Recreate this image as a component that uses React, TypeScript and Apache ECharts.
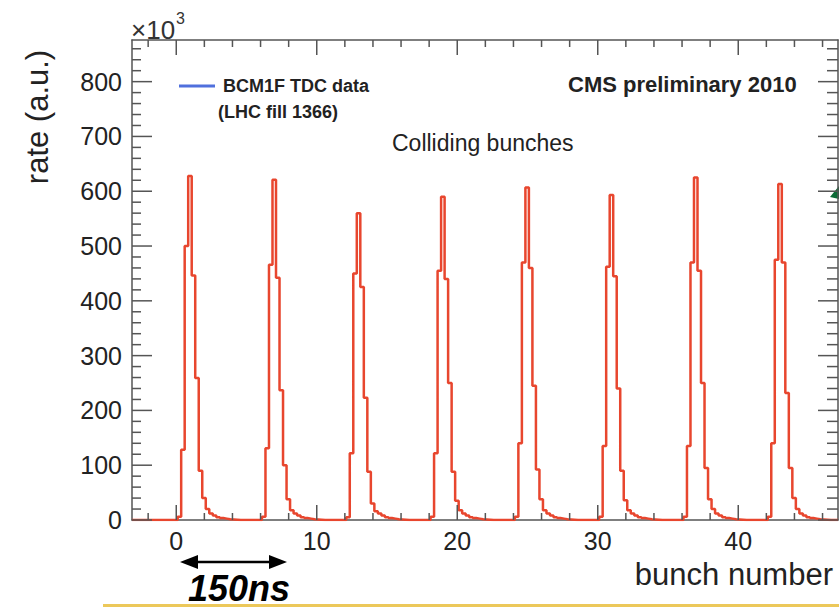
import React, { useEffect, useRef } from "react";
import * as echarts from "echarts";

// ---- histogram binning (bunch number axis) ----
const xMin = -3.15;
const xMax = 47.1;
const yMin = 0;
const yMax = 876;
const binWidth = 0.25;

// ---- colliding bunch positions ----
const bunchNumbers = [1, 7, 13, 19, 25, 31, 37, 43];

// ---- bin contents around each colliding bunch (rate, x10^3) ----
const preBin = [6, 6, 5, 6, 6, 6, 6, 6];
const riseBin = [128, 131, 122, 122, 140, 135, 135, 140];
const leftShoulder = [500, 466, 450, 455, 470, 462, 470, 475];
const peakBin = [628, 621, 560, 590, 607, 593, 625, 613];
const rightShoulder = [446, 442, 425, 440, 460, 445, 455, 470];
const fallBin = [259, 237, 223, 250, 245, 240, 250, 232];
const lowBin = [90, 100, 88, 88, 92, 90, 95, 95];
const tailBin1 = [40, 38, 30, 35, 38, 36, 38, 40];
const tailBin2 = [20, 18, 16, 18, 18, 18, 20, 20];
const tailRest = [12, 8, 5, 3.5, 2.5, 1.5, 1, 0.5];

// ---- frame tick positions (axis values) ----
const xMajorTicks = [0, 10, 20, 30, 40];
const xMinorTicks = [-2, 2, 4, 6, 8, 12, 14, 16, 18, 22, 24, 26, 28, 32, 34, 36, 38, 42, 44, 46];
const yMajorTicks = [0, 100, 200, 300, 400, 500, 600, 700, 800];
const yMinorTicks = [
  20, 40, 60, 80, 120, 140, 160, 180, 220, 240, 260, 280, 320, 340, 360, 380,
  420, 440, 460, 480, 520, 540, 560, 580, 620, 640, 660, 680, 720, 740, 760, 780,
  820, 840, 860,
];

const FONT = "'Liberation Sans', Arial, Helvetica, sans-serif";
const TEXT = "#222";
const FRAME = "#555";
const RED = "#e8462e";

function buildHistogram(): number[][] {
  const nBins = Math.round((xMax - xMin) / binWidth);
  const counts: number[] = new Array(nBins).fill(0);
  bunchNumbers.forEach((b, n) => {
    const k0 = Math.round((b - 0.9 - xMin) / binWidth);
    const profile = [
      preBin[n],
      riseBin[n],
      leftShoulder[n],
      peakBin[n],
      rightShoulder[n],
      fallBin[n],
      lowBin[n],
      tailBin1[n],
      tailBin2[n],
      ...tailRest,
    ];
    profile.forEach((v, i) => {
      if (k0 + i < nBins) counts[k0 + i] = v;
    });
  });
  const pts: number[][] = counts.map((c, k) => [xMin + k * binWidth, c]);
  pts.push([xMax, counts[nBins - 1]]);
  return pts;
}

const frameLine = () => ({
  show: true,
  onZero: false,
  lineStyle: { color: FRAME, width: 1.5 },
});

const baseGraphic: any[] = [
  {
    type: "text",
    left: 131,
    top: 17,
    style: { text: "×10", fontFamily: FONT, fontSize: 26, fill: "#333" },
  },
  {
    type: "text",
    left: 176,
    top: 10,
    style: { text: "3", fontFamily: FONT, fontSize: 16, fill: "#333" },
  },
  {
    type: "text",
    x: 218,
    y: 112,
    style: {
      text: "(LHC fill 1366)",
      fontFamily: FONT,
      fontWeight: "bold",
      fontSize: 18,
      fill: TEXT,
      textAlign: "left",
      textVerticalAlign: "middle",
    },
  },
  {
    type: "text",
    x: 568,
    y: 84,
    style: {
      text: "CMS preliminary 2010",
      fontFamily: FONT,
      fontWeight: "bold",
      fontSize: 22,
      fill: TEXT,
      textAlign: "left",
      textVerticalAlign: "middle",
    },
  },
  {
    type: "text",
    x: 392,
    y: 143,
    style: {
      text: "Colliding bunches",
      fontFamily: FONT,
      fontSize: 23,
      fill: TEXT,
      textAlign: "left",
      textVerticalAlign: "middle",
    },
  },
  {
    type: "text",
    x: 37,
    y: 117,
    rotation: Math.PI / 2,
    style: {
      text: "rate (a.u.)",
      fontFamily: FONT,
      fontSize: 31,
      fill: TEXT,
      textAlign: "center",
      textVerticalAlign: "middle",
    },
  },
  {
    type: "text",
    x: 833,
    y: 574,
    style: {
      text: "bunch number",
      fontFamily: FONT,
      fontSize: 31,
      fill: TEXT,
      textAlign: "right",
      textVerticalAlign: "middle",
    },
  },
  {
    type: "line",
    shape: { x1: 195, y1: 562, x2: 272, y2: 562 },
    style: { stroke: "#000", lineWidth: 2.5 },
  },
  {
    type: "polygon",
    shape: { points: [[180, 562], [198, 555], [198, 569]] },
    style: { fill: "#000" },
  },
  {
    type: "polygon",
    shape: { points: [[287, 562], [269, 555], [269, 569]] },
    style: { fill: "#000" },
  },
  {
    type: "text",
    x: 188,
    y: 588,
    style: {
      text: "150ns",
      fontFamily: FONT,
      fontWeight: "bold",
      fontStyle: "italic",
      fontSize: 36,
      fill: "#000",
      textAlign: "left",
      textVerticalAlign: "middle",
    },
  },
  {
    type: "rect",
    shape: { x: 103, y: 604, width: 736, height: 3 },
    style: { fill: "#ecc85a" },
  },
  {
    type: "polygon",
    shape: { points: [[839, 186], [830, 197], [839, 199]] },
    style: { fill: "#0b6b35" },
  },
];

export default function App() {
  const ref = useRef<HTMLDivElement>(null);

  useEffect(() => {
    document.body.style.margin = "0";
    const chart = echarts.init(ref.current!, null, { renderer: "svg" });

    const xBase = () => ({
      type: "value",
      min: xMin,
      max: xMax,
      splitLine: { show: false },
      axisTick: { show: false },
    });
    const yBase = () => ({
      type: "value",
      min: yMin,
      max: yMax,
      splitLine: { show: false },
      axisTick: { show: false },
    });

    const option: any = {
      animation: false,
      backgroundColor: "#ffffff",
      grid: { left: 132, right: 1, top: 40, bottom: 87 },
      legend: {
        show: true,
        data: ["BCM1F TDC data"],
        left: 174,
        top: 72,
        icon: "rect",
        itemWidth: 36,
        itemHeight: 3,
        textStyle: {
          fontFamily: FONT,
          fontWeight: "bold",
          fontSize: 18,
          color: TEXT,
          padding: [0, 0, 0, 3],
        },
      },
      xAxis: [
        {
          ...xBase(),
          position: "bottom",
          minInterval: 10,
          maxInterval: 10,
          axisLine: frameLine(),
          axisLabel: {
            show: true,
            showMinLabel: false,
            showMaxLabel: false,
            fontFamily: FONT,
            fontSize: 25,
            color: TEXT,
            margin: 8,
          },
        },
        {
          ...xBase(),
          position: "top",
          axisLine: frameLine(),
          axisLabel: { show: false },
        },
      ],
      yAxis: [
        {
          ...yBase(),
          position: "left",
          interval: 100,
          axisLine: frameLine(),
          axisLabel: {
            show: true,
            showMaxLabel: false,
            fontFamily: FONT,
            fontSize: 25,
            color: TEXT,
            margin: 10,
          },
        },
        {
          ...yBase(),
          position: "right",
          interval: 100,
          axisLine: frameLine(),
          axisLabel: { show: false },
        },
      ],
      series: [
        {
          name: "BCM1F TDC data",
          type: "line",
          step: "end",
          xAxisIndex: 0,
          yAxisIndex: 0,
          symbol: "none",
          showSymbol: false,
          lineStyle: { color: RED, width: 2.5 },
          data: buildHistogram(),
        },
      ],
      graphic: baseGraphic,
    };

    chart.setOption(option);

    // frame ticks, placed through the chart's own axis scales
    const tickGraphic: any[] = [];
    try {
      const px = (v: number) => chart.convertToPixel({ xAxisIndex: 0 } as any, v) as number;
      const py = (v: number) => chart.convertToPixel({ yAxisIndex: 0 } as any, v) as number;
      const left = px(xMin);
      const right = px(xMax);
      const top = py(yMax);
      const bottom = py(yMin);
      const style = { stroke: FRAME, lineWidth: 1.5 };
      const addX = (list: number[], len: number) =>
        list.forEach((v) => {
          const x = px(v);
          tickGraphic.push({ type: "line", z: 100, shape: { x1: x, y1: bottom, x2: x, y2: bottom - len }, style });
          tickGraphic.push({ type: "line", z: 100, shape: { x1: x, y1: top, x2: x, y2: top + len }, style });
        });
      const addY = (list: number[], lenL: number, lenR: number) =>
        list.forEach((v) => {
          const y = py(v);
          tickGraphic.push({ type: "line", z: 100, shape: { x1: left, y1: y, x2: left + lenL, y2: y }, style });
          tickGraphic.push({ type: "line", z: 100, shape: { x1: right, y1: y, x2: right - lenR, y2: y }, style });
        });
      addX(xMajorTicks, 15);
      addX(xMinorTicks, 7);
      addY(yMajorTicks, 20, 20);
      addY(yMinorTicks, 9, 11);
    } catch (e) {
      // ignore
    }
    if (tickGraphic.length) {
      chart.setOption({ graphic: [...baseGraphic, ...tickGraphic] });
    }

    return () => chart.dispose();
  }, []);

  return (
    <div
      ref={ref}
      style={{
        position: "absolute",
        left: 0,
        top: 0,
        width: 839,
        height: 607,
      }}
    />
  );
}
